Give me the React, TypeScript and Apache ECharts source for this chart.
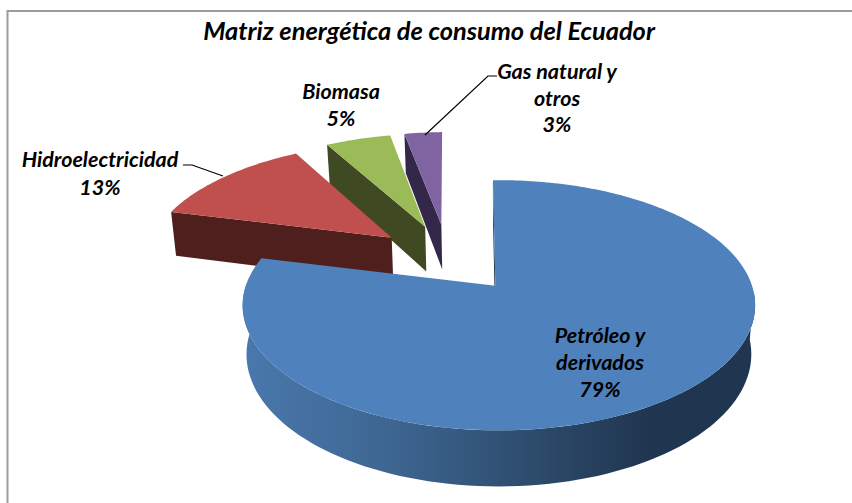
import React, { useEffect, useRef } from "react";
import * as echarts from "echarts";

const categories = ["Petróleo y derivados", "Hidroelectricidad", "Biomasa", "Gas natural y otros"];
const values = [79.4, 12.7, 5.0, 2.9];
const labelLines = [["Petróleo y", "derivados", "79%"], ["Hidroelectricidad", "13%"], ["Biomasa", "5%"], ["Gas natural y", "otros", "3%"]];
const chartTitle = "Matriz energética de consumo del Ecuador";

const topColors = ["#4f81bd", "#c0504d", "#9bbb59", "#8064a2"];
const wallColors = ["#1f3550", "#4e1f1c", "#3f4a22", "#33284a"];

// Layout of the perspective projection (not data)
const CX = 498.5, CY = 287, RX = 253.5, RY = 122.4, PERSP = 0.144, DEPTH = 48, LOWER_SCALE = 0.985;
const START_DEG = -1.6, EXPLODE = 0.31, DISC_X = -0.2, DISC_Y = 0.24;
const rimShiftX = [2, 0, 0, -1.5];
const apexShift = [[-1.5, -1.5], [0, 0], [0, 0], [-1.5, 0]];
const labelAnchors = [[600, 335], [100, 159], [341, 91], [557, 71]];
const labelGap = [27, 28, 27, 26.5];
const leaders: (number[][] | null)[] = [null, [[183, 165], [192, 165], [223, 176]], null, [[497, 76], [488, 76], [425, 135]]];
const FONT = "Lato, 'Open Sans', sans-serif";

function project(u: number, v: number, lower = false): number[] {
  const w = 1 + PERSP * v;
  const x = (RX * u) / w;
  const y = (RY * v) / w;
  if (!lower) return [CX + x, CY - y];
  return [CX + x * LOWER_SCALE, CY - y + DEPTH / w];
}

function sliceGeometry(index: number) {
  const total = values.reduce((a, b) => a + b, 0);
  let start = START_DEG;
  for (let i = 0; i < index; i++) start += (values[i] / total) * 360;
  const sweep = (values[index] / total) * 360;
  const mid = ((start + sweep / 2) * Math.PI) / 180;
  const vx = DISC_X + EXPLODE * Math.sin(mid);
  const vy = DISC_Y + EXPLODE * Math.cos(mid);
  const rim = (deg: number, lower = false) => {
    const a = (deg * Math.PI) / 180;
    const p = project(vx + Math.sin(a), vy + Math.cos(a), lower);
    return [p[0] + rimShiftX[index], p[1]];
  };
  const apex = (lower = false) => {
    const p = project(vx, vy, lower);
    return [p[0] + apexShift[index][0], p[1] + apexShift[index][1]];
  };
  return { start, sweep, rim, apex };
}

function renderSlice(params: any, api: any) {
  const i = api.value(0) as number;
  const { start, sweep, rim, apex } = sliceGeometry(i);
  const steps = Math.max(8, Math.round(sweep));
  const arc: number[][] = [];
  for (let s = 0; s <= steps; s++) arc.push(rim(start + (sweep * s) / steps));
  const children: any[] = [];
  const z = (4 - i) * 10;
  const apexTop = apex();
  const apexLow = apex(true);

  // cut face running from the apex to the clockwise start of the slice
  children.push({
    type: "polygon",
    z2: z,
    shape: { points: [apexTop, rim(start), rim(start, true), apexLow] },
    style: { fill: wallColors[i] },
  });

  if (i === 0) {
    // outer wall visible on the near side of the large slice
    const from = 92, to = 272;
    const upper: number[][] = [];
    const lower: number[][] = [];
    for (let d = from; d <= to; d += 2) {
      upper.push(rim(d));
      lower.push(rim(d, true));
    }
    children.push({
      type: "polygon",
      z2: z,
      shape: { points: upper.concat(lower.reverse()) },
      style: {
        fill: new echarts.graphic.LinearGradient(0, 0, 1, 0, [
          { offset: 0, color: "#4a78ad" },
          { offset: 0.3, color: "#3d6590" },
          { offset: 0.62, color: "#2a4665" },
          { offset: 0.8, color: "#1f3550" },
          { offset: 1, color: "#1f3550" },
        ]),
      },
    });
  }

  children.push({
    type: "polygon",
    z2: z + 1,
    shape: { points: [apexTop, ...arc] },
    style: { fill: topColors[i] },
  });

  const line = leaders[i];
  if (line) {
    children.push({
      type: "polyline",
      z2: 100,
      shape: { points: line },
      style: { stroke: "#000", lineWidth: 1.2, fill: "none" },
    });
  }

  labelLines[i].forEach((t, k) => {
    children.push({
      type: "text",
      z2: 101,
      x: labelAnchors[i][0],
      y: labelAnchors[i][1] + labelGap[i] * k,
      style: {
        text: t,
        fill: "#000",
        font: `italic bold 21.5px ${FONT}`,
        align: "center",
        verticalAlign: "middle",
      },
    });
  });
  return { type: "group", children };
}

export default function App() {
  const ref = useRef<HTMLDivElement>(null);
  useEffect(() => {
    if (!ref.current) return;
    const chart = echarts.init(ref.current, undefined, { renderer: "svg" });
    chart.setOption({
      animation: false,
      backgroundColor: "#ffffff",
      title: {
        text: chartTitle,
        left: 424,
        top: 12,
        textAlign: "center",
        textStyle: { fontFamily: FONT, fontStyle: "italic", fontWeight: "bold", fontSize: 25.4, color: "#000" },
      },
      graphic: [
        {
          type: "rect",
          shape: { x: 7.5, y: 11, width: 860, height: 510 },
          style: { fill: "none", stroke: "#9c9c9c", lineWidth: 2 },
          silent: true,
        },
      ],
      series: [
        {
          type: "custom",
          coordinateSystem: "none",
          renderItem: renderSlice,
          encode: { itemName: 2, value: 1 },
          data: categories.map((c, i) => [i, values[i], c]),
          silent: true,
        },
      ],
    });
    return () => chart.dispose();
  }, []);
  return <div ref={ref} style={{ position: "absolute", left: 0, top: 0, width: 852, height: 503 }} />;
}
